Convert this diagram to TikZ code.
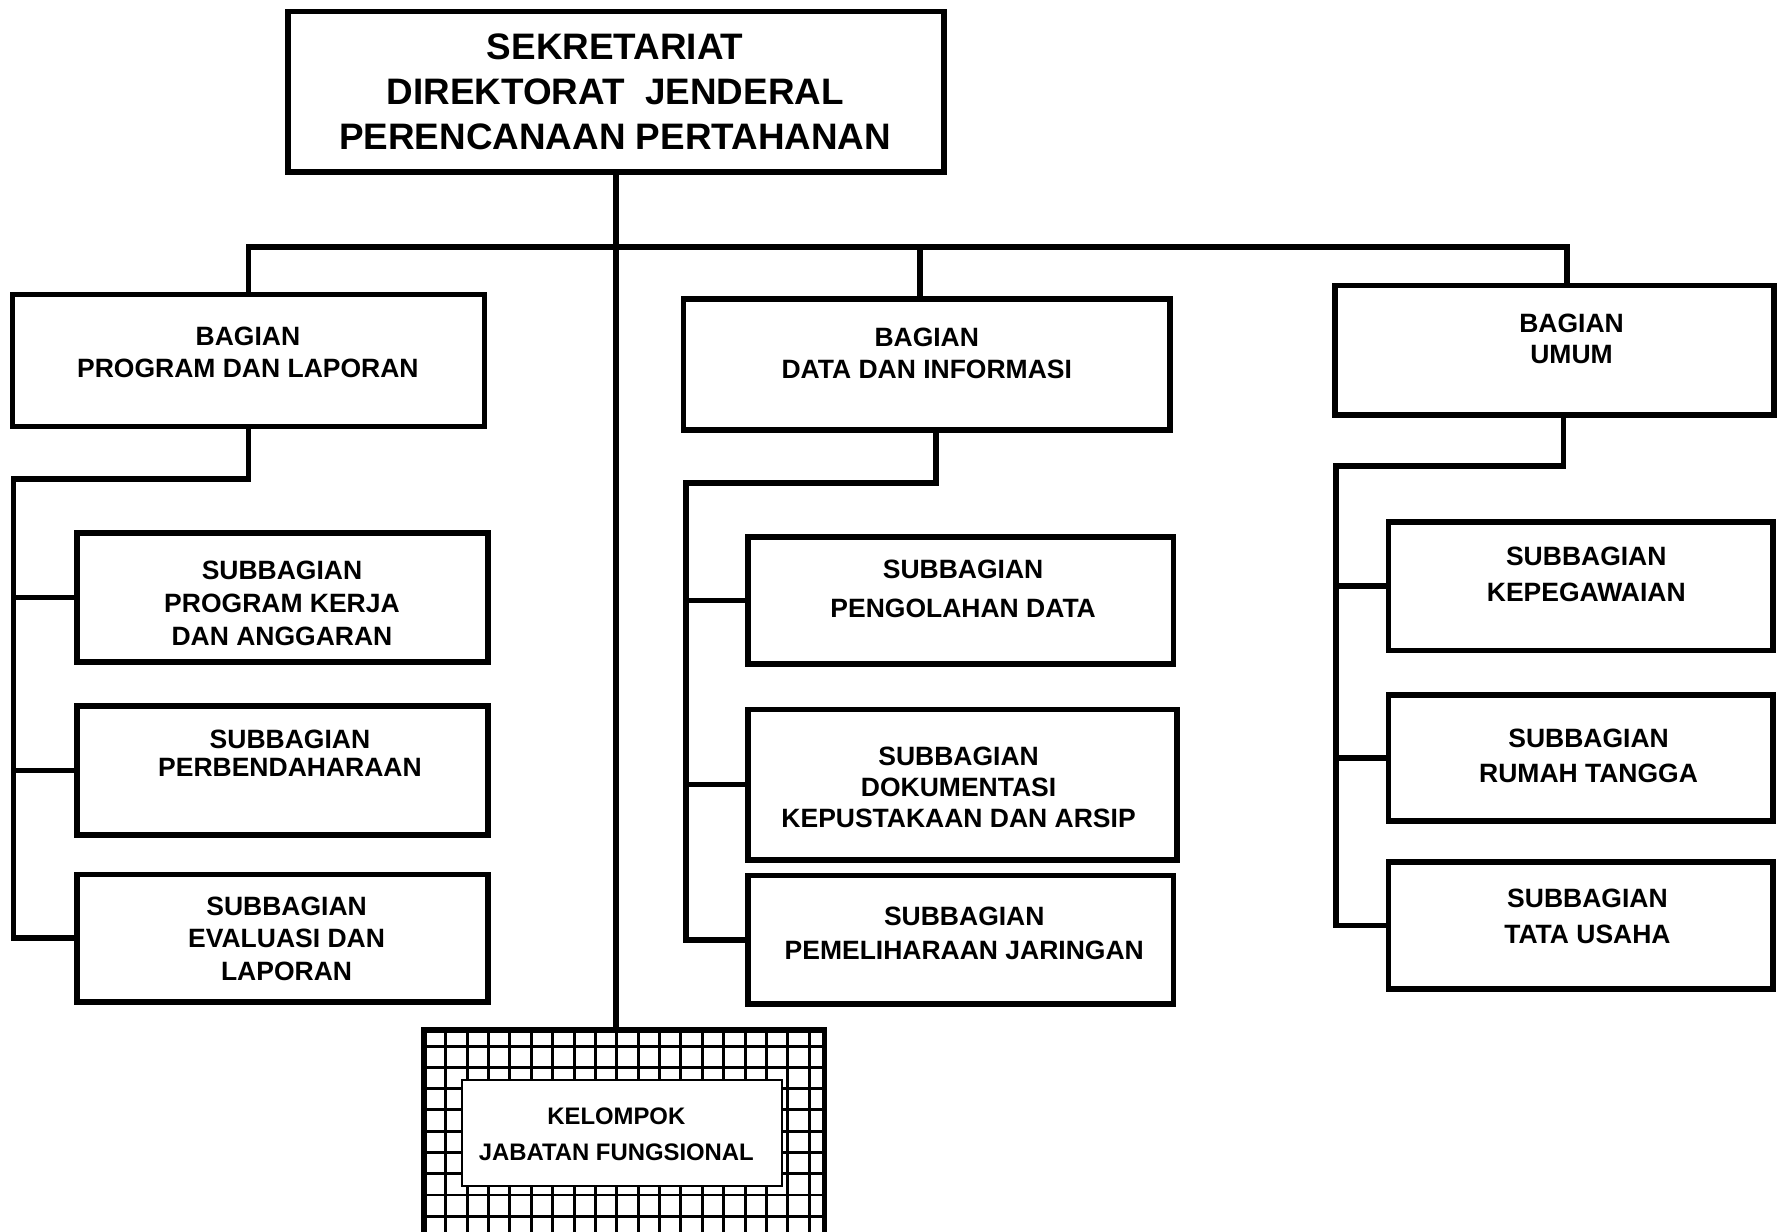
\documentclass[tikz,border=0pt]{standalone}
\usepackage{fontspec}
\setmainfont{Liberation Sans}
\newcommand\obox[6][]{\node[bx,#1,minimum width={(#5-#3)*0.5pt},minimum height={(#6-#4)*0.5pt}] (#2) at ({(#3+#5)/2},{(#4+#6)/2}) {};}
\begin{document}
\begin{tikzpicture}[x=0.5pt,y=-0.5pt,
  bx/.style={draw, line width=2.5pt, fill=white, inner sep=0pt, outer sep=0pt},
  ln/.style={line width=2.5pt},
  gr/.style={line width=1.3pt},
  tl/.style={font=\fontsize{16.2}{19.75}\selectfont\bfseries, align=center, inner sep=0pt},
  tx/.style={font=\fontsize{11.65}{#1}\selectfont\bfseries, align=center, inner sep=0pt},
  tk/.style={font=\fontsize{10.5}{#1}\selectfont\bfseries, align=center, inner sep=0pt}]
\useasboundingbox (0,0) rectangle (1568,1083);
\clip (0,0) rectangle (1568,1083);
% boxes
\obox{main}{253}{10}{830}{151}
\obox{bpl}{11}{259}{426}{375}
\obox{bdi}{601}{263}{1029}{378}
\obox{bum}{1174}{251}{1560}{365}
\obox{s1}{68}{469}{429}{582}
\obox{s2}{68}{621}{429}{734}
\obox{s3}{68}{769}{429}{881}
\obox{d1}{658}{472}{1032}{584}
\obox{d2}{658}{624}{1035}{756}
\obox{d3}{658}{770}{1032}{883}
\obox{u1}{1221}{459}{1559}{572}
\obox{u2}{1221}{611}{1559}{722}
\obox{u3}{1221}{758}{1559}{870}
\obox{kel}{373}{906}{725}{1120}
% grid inside kelompok
\begin{scope}
\clip (kel.south west) rectangle (kel.north east);
\foreach \i in {0,...,19} \draw[gr] ({392+18.8*\i},900) -- ({392+18.8*\i},1130);
\foreach \j in {0,...,10} \draw[gr] (370,{920+18.7*\j}) -- (730,{920+18.7*\j});
\end{scope}
\draw[ln] (kel.south west) rectangle (kel.north east);
\node[draw, line width=0.8pt, fill=white, inner sep=0pt, minimum width=141pt, minimum height=46.5pt] (kin) at (547,996.5) {};
% connectors
\coordinate (busy) at (0,217);
\draw[ln] (main.south) -- (main.south |- kel.north);
\coordinate (dropR) at ([xshift=5.5pt]bum.north);
\coordinate (dropM) at ([xshift=-3pt]bdi.north);
\draw[ln] (bpl.north) -- (bpl.north |- busy) -- (dropR |- busy) -- (dropR);
\draw[ln] (dropM |- busy) -- (dropM);
% program dan laporan branch
\coordinate (plx) at (12,421);
\draw[ln] (bpl.south) |- (plx) |- (s3.west);
\draw[ln] (plx |- s1.west) -- (s1.west);
\draw[ln] (plx |- s2.west) -- (s2.west);
% data dan informasi branch
\coordinate (dis) at ([xshift=4pt]bdi.south);
\coordinate (dix) at (603,425);
\draw[ln] (dis) |- (dix) |- (d3.west);
\draw[ln] (dix |- d1.west) -- (d1.west);
\draw[ln] (dix |- d2.west) -- (d2.west);
% umum branch
\coordinate (ums) at ([xshift=4pt]bum.south);
\coordinate (umx) at (1175,410);
\draw[ln] (ums) |- (umx) |- (u3.west);
\draw[ln] (umx |- u1.west) -- (u1.west);
\draw[ln] (umx |- u2.west) -- (u2.west);
% texts
\node[tl] (tmain) at (541,80.5) {SEKRETARIAT\\DIREKTORAT\ \ JENDERAL\\PERENCANAAN PERTAHANAN};
\node[tx=14pt] (tpl) at (218,310) {BAGIAN\\PROGRAM DAN LAPORAN};
\node[tx=14pt] (tdi) at (815,311) {BAGIAN\\DATA DAN INFORMASI};
\node[tx=14pt] (tum) at (1382,298) {BAGIAN\\UMUM};
\node[tx=14.5pt] (ts1) at (248,531) {SUBBAGIAN\\PROGRAM KERJA\\DAN ANGGARAN};
\node[tx=12.5pt] (ts2) at (255,662.5) {SUBBAGIAN\\PERBENDAHARAAN};
\node[tx=14.25pt] (ts3) at (252,825.5) {SUBBAGIAN\\EVALUASI DAN\\LAPORAN};
\node[tx=17pt] (td1) at (847,518) {SUBBAGIAN\\PENGOLAHAN DATA};
\node[tx=13.75pt] (td2) at (843,692.5) {SUBBAGIAN\\DOKUMENTASI\\KEPUSTAKAAN DAN ARSIP};
\node[tx=15pt] (td3) at (848,821) {SUBBAGIAN\\PEMELIHARAAN JARINGAN};
\node[tx=16pt] (tu1) at (1395,505) {SUBBAGIAN\\KEPEGAWAIAN};
\node[tx=15.5pt] (tu2) at (1397,664.5) {SUBBAGIAN\\RUMAH TANGGA};
\node[tx=16pt] (tu3) at (1396,806) {SUBBAGIAN\\TATA USAHA};
\node[tk=15.5pt] (tkel) at (542,997.5) {KELOMPOK\\JABATAN FUNGSIONAL};
\end{tikzpicture}
\end{document}
